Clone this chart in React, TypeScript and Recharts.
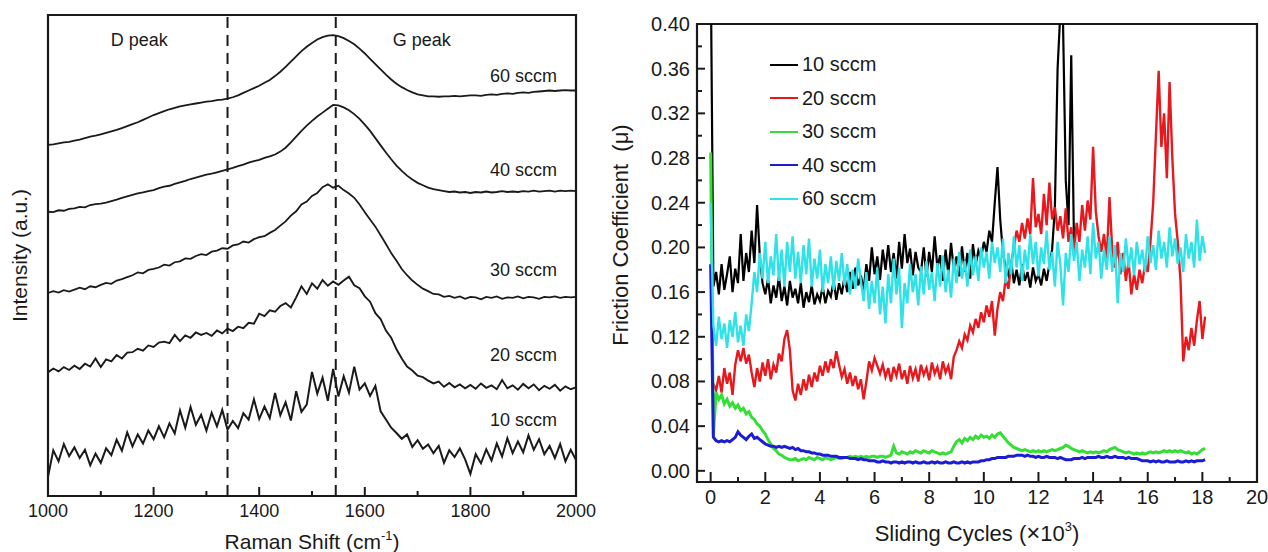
import React from 'react';
import {
  LineChart,
  Line,
  XAxis,
  YAxis,
  ReferenceLine,
  ReferenceArea,
  ReferenceDot,
  Legend
} from 'recharts';

const FONT = '"Liberation Sans", Arial, Helvetica, sans-serif';
const INK = '#1a1a1a';

// ---------- left panel: Raman spectra (intensity in arbitrary, offset units) ----------
const ramanShift = [
  1000, 1010, 1020, 1030, 1040, 1050, 1060, 1070, 1080, 1090,
  1100, 1110, 1120, 1130, 1140, 1150, 1160, 1170, 1180, 1190,
  1200, 1210, 1220, 1230, 1240, 1250, 1260, 1270, 1280, 1290,
  1300, 1310, 1320, 1330, 1340, 1350, 1360, 1370, 1380, 1390,
  1400, 1410, 1420, 1430, 1440, 1450, 1460, 1470, 1480, 1490,
  1500, 1510, 1520, 1530, 1540, 1550, 1560, 1570, 1580, 1590,
  1600, 1610, 1620, 1630, 1640, 1650, 1660, 1670, 1680, 1690,
  1700, 1710, 1720, 1730, 1740, 1750, 1760, 1770, 1780, 1790,
  1800, 1810, 1820, 1830, 1840, 1850, 1860, 1870, 1880, 1890,
  1900, 1910, 1920, 1930, 1940, 1950, 1960, 1970, 1980, 1990,
  2000
];

const raman60 = [
  73.0, 73.1, 73.3, 73.5, 73.6, 73.9, 74.1, 74.4, 74.7, 74.9,
  75.2, 75.5, 75.8, 76.1, 76.5, 76.9, 77.3, 77.7, 78.2, 78.7,
  79.2, 79.6, 80.0, 80.4, 80.7, 81.0, 81.2, 81.4, 81.6, 81.8,
  82.0, 82.1, 82.3, 82.4, 82.6, 82.9, 83.3, 83.8, 84.3, 84.8,
  85.3, 85.9, 86.5, 87.3, 88.2, 89.2, 90.3, 91.4, 92.5, 93.4,
  94.2, 94.9, 95.4, 95.7, 95.8, 95.6, 95.2, 94.6, 93.9, 93.0,
  92.0, 90.9, 89.8, 88.7, 87.6, 86.6, 85.7, 85.0, 84.4, 83.9,
  83.5, 83.3, 83.1, 83.1, 83.0, 83.1, 83.1, 83.2, 83.1, 83.2,
  83.3, 83.3, 83.2, 83.4, 83.5, 83.4, 83.6, 83.7, 83.6, 83.8,
  83.9, 83.8, 84.0, 84.1, 84.2, 84.3, 84.2, 84.3, 84.4, 84.3,
  84.3
];

const raman40 = [
  59.1, 59.0, 59.4, 59.3, 59.7, 59.8, 60.1, 60.0, 60.5, 60.7,
  60.8, 61.0, 61.3, 61.6, 62.0, 62.3, 62.6, 62.9, 63.1, 63.4,
  63.6, 64.0, 64.3, 64.5, 64.9, 65.2, 65.5, 65.9, 66.2, 66.5,
  66.8, 67.0, 67.3, 67.6, 67.9, 68.2, 68.6, 68.9, 69.3, 69.6,
  69.9, 70.3, 70.6, 71.0, 71.6, 72.4, 73.5, 74.7, 75.9, 77.0,
  78.0, 78.9, 79.7, 80.5, 81.3, 81.2, 80.8, 80.2, 79.4, 78.4,
  77.2, 75.9, 74.4, 72.9, 71.4, 70.0, 68.7, 67.6, 66.6, 65.8,
  65.1, 64.6, 64.1, 63.8, 63.6, 63.4, 63.2, 63.3, 63.1, 63.2,
  63.0, 63.2, 63.1, 63.3, 63.1, 63.2, 63.4, 63.2, 63.3, 63.2,
  63.4, 63.3, 63.5, 63.3, 63.4, 63.5, 63.3, 63.5, 63.4, 63.5,
  63.4
];

const raman30 = [
  42.2, 42.6, 42.3, 42.8, 42.5, 42.9, 43.3, 43.0, 43.6, 43.4,
  43.9, 44.3, 44.1, 44.8, 45.1, 45.5, 45.9, 46.5, 46.3, 47.0,
  47.2, 47.5, 48.1, 47.9, 48.6, 48.8, 49.4, 49.3, 49.9, 50.3,
  50.1, 50.8, 51.0, 51.5, 51.4, 52.1, 52.3, 52.9, 52.7, 53.4,
  53.8, 54.0, 54.7, 55.3, 56.2, 57.1, 58.3, 59.2, 60.6, 61.2,
  62.4, 63.0, 64.2, 64.8, 64.1, 64.5, 63.6, 62.9, 62.0, 60.6,
  59.0, 57.5, 56.0, 54.2, 52.4, 50.5, 48.9, 47.2, 45.9, 44.8,
  43.9, 43.1, 42.6, 42.0, 41.9, 41.4, 41.6, 41.2, 41.5, 41.0,
  41.4, 41.3, 40.9, 41.4, 41.2, 41.5, 41.0, 41.3, 41.2, 41.5,
  41.1, 41.4, 41.3, 41.0, 41.4, 41.3, 41.5, 41.2, 41.4, 41.3,
  41.4
];

const raman20 = [
  25.7, 26.5, 25.9, 26.8, 26.2, 27.1, 26.4, 27.5, 26.9, 28.6,
  26.8, 28.4, 28.0, 29.3, 28.6, 29.8, 29.9, 30.6, 30.2, 31.3,
  31.0, 31.9, 32.1, 31.8, 33.5, 32.2, 33.4, 32.9, 34.0, 33.5,
  33.9, 33.3, 34.4, 33.8, 34.8, 34.3, 35.2, 34.9, 36.0, 35.8,
  37.9, 37.4, 38.6, 38.3, 39.5, 40.1, 39.2, 41.3, 43.6, 42.0,
  44.2, 43.1, 44.9, 43.7, 44.6, 43.9, 44.8, 45.6, 43.8, 43.2,
  41.5, 40.4, 38.0, 36.8, 34.4, 32.9, 30.5, 28.6, 26.9, 26.1,
  25.0, 24.7, 24.0, 23.4, 23.8, 22.7, 23.5, 22.6, 23.2, 22.4,
  23.1, 22.3, 23.4, 22.5, 23.0, 22.2, 24.1, 22.4, 23.0, 22.1,
  23.3, 22.4, 23.2, 22.0, 22.9, 22.3, 23.1, 21.9, 22.8, 22.2,
  22.6
];

const raman10 = [
  4.0, 9.5, 7.2, 10.8, 8.3, 10.1, 7.9, 9.6, 6.4, 8.8,
  6.9, 9.9, 8.5, 11.7, 9.4, 13.2, 10.3, 12.8, 10.9, 13.6,
  11.8, 14.5, 12.2, 15.1, 13.0, 17.8, 14.2, 18.5, 14.8, 16.9,
  13.6, 17.3, 14.5, 17.9, 13.8, 15.6, 14.1, 17.2, 15.9, 20.1,
  16.0, 18.6, 16.2, 21.4, 16.8, 19.5, 15.7, 21.8, 17.5, 19.0,
  25.8, 21.3, 24.6, 19.8, 26.4, 20.7, 24.9, 21.5, 26.9, 22.1,
  23.4, 20.8, 22.9, 17.6, 15.9, 14.2, 13.1, 11.9, 12.8, 10.2,
  11.6, 9.8, 10.7, 8.9, 10.4, 6.9, 9.5, 8.1, 9.9, 7.6,
  4.6, 8.7, 6.8, 9.7, 7.4, 10.9, 8.2, 12.0, 8.9, 11.3,
  9.1, 12.6, 9.6, 11.8, 8.7, 10.4, 7.9, 10.8, 7.2, 9.6,
  7.5
];

const ramanTicks = [1000, 1100, 1200, 1300, 1400, 1500, 1600, 1700, 1800, 1900, 2000];
const peakLines = [1340, 1545];

// annotations: [label, raman shift, intensity]
const peakLabels: [string, number, number][] = [
  ['D peak', 1173, 94.9],
  ['G peak', 1708, 94.9]
];
const flowLabels: [string, number, number][] = [
  ['60 sccm', 1964, 87.3],
  ['40 sccm', 1964, 67.7],
  ['30 sccm', 1964, 47.0],
  ['20 sccm', 1964, 29.3],
  ['10 sccm', 1964, 15.9]
];

const ramanData = ramanShift.map((x, i) => ({
  x,
  s10: raman10[i],
  s20: raman20[i],
  s30: raman30[i],
  s40: raman40[i],
  s60: raman60[i]
}));

// ---------- right panel: friction coefficient vs sliding cycles (x10^3) ----------
const cycles = [
  0.0, 0.1, 0.2, 0.3, 0.4, 0.5, 0.6, 0.7, 0.8, 0.9,
  1.0, 1.1, 1.2, 1.3, 1.4, 1.5, 1.6, 1.7, 1.8, 1.9,
  2.0, 2.1, 2.2, 2.3, 2.4, 2.5, 2.6, 2.7, 2.8, 2.9,
  3.0, 3.1, 3.2, 3.3, 3.4, 3.5, 3.6, 3.7, 3.8, 3.9,
  4.0, 4.1, 4.2, 4.3, 4.4, 4.5, 4.6, 4.7, 4.8, 4.9,
  5.0, 5.1, 5.2, 5.3, 5.4, 5.5, 5.6, 5.7, 5.8, 5.9,
  6.0, 6.1, 6.2, 6.3, 6.4, 6.5, 6.6, 6.7, 6.8, 6.9,
  7.0, 7.1, 7.2, 7.3, 7.4, 7.5, 7.6, 7.7, 7.8, 7.9,
  8.0, 8.1, 8.2, 8.3, 8.4, 8.5, 8.6, 8.7, 8.8, 8.9,
  9.0, 9.1, 9.2, 9.3, 9.4, 9.5, 9.6, 9.7, 9.8, 9.9,
  10.0, 10.1, 10.2, 10.3, 10.4, 10.5, 10.6, 10.7, 10.8, 10.9,
  11.0, 11.1, 11.2, 11.3, 11.4, 11.5, 11.6, 11.7, 11.8, 11.9,
  12.0, 12.1, 12.2, 12.3, 12.4, 12.5, 12.6, 12.7, 12.8, 12.9,
  13.0, 13.1, 13.2, 13.3, 13.4, 13.5, 13.6, 13.7, 13.8, 13.9,
  14.0, 14.1, 14.2, 14.3, 14.4, 14.5, 14.6, 14.7, 14.8, 14.9,
  15.0, 15.1, 15.2, 15.3, 15.4, 15.5, 15.6, 15.7, 15.8, 15.9,
  16.0, 16.1, 16.2, 16.3, 16.4, 16.5, 16.6, 16.7, 16.8, 16.9,
  17.0, 17.1, 17.2, 17.3, 17.4, 17.5, 17.6, 17.7, 17.8, 17.9,
  18.0, 18.1
];

// 10 sccm stops after the big spike at ~13.3
const mu10 = [
  0.46, 0.165, 0.178, 0.158, 0.185, 0.162, 0.176, 0.192, 0.160, 0.181,
  0.168, 0.212, 0.170, 0.195, 0.178, 0.215, 0.186, 0.238, 0.192, 0.168,
  0.158, 0.172, 0.150, 0.166, 0.155, 0.174, 0.152, 0.165, 0.148, 0.170,
  0.155, 0.163, 0.150, 0.168, 0.146, 0.160, 0.151, 0.166, 0.149, 0.158,
  0.152, 0.165, 0.150, 0.161, 0.156, 0.170, 0.153, 0.168, 0.158, 0.174,
  0.160, 0.178, 0.163, 0.182, 0.166, 0.175, 0.162, 0.185, 0.170, 0.200,
  0.176, 0.192, 0.171, 0.198, 0.180, 0.202, 0.178, 0.195, 0.172, 0.205,
  0.181, 0.212, 0.186, 0.199, 0.175, 0.196, 0.182, 0.178, 0.200, 0.174,
  0.196, 0.178, 0.210, 0.182, 0.193, 0.170, 0.198, 0.176, 0.204, 0.180,
  0.192, 0.174, 0.201, 0.178, 0.195, 0.172, 0.203, 0.184, 0.197, 0.190,
  0.205, 0.196, 0.215, 0.205, 0.240, 0.272, 0.225, 0.195, 0.182, 0.175,
  0.188, 0.168, 0.180, 0.166, 0.185, 0.170, 0.178, 0.164, 0.182, 0.170,
  0.176, 0.166, 0.181, 0.170, 0.185, 0.198, 0.235, 0.360, 0.410, 0.400,
  0.260, 0.220, 0.372, 0.205
];

const mu20 = [
  null, 0.078, 0.072, 0.085, 0.070, 0.092, 0.078, 0.088, 0.068, 0.095,
  0.108, 0.098, 0.110, 0.096, 0.104, 0.088, 0.075, 0.092, 0.080, 0.097,
  0.085, 0.100, 0.082, 0.095, 0.088, 0.105, 0.098, 0.118, 0.126, 0.108,
  0.072, 0.063, 0.078, 0.068, 0.082, 0.072, 0.086, 0.075, 0.088, 0.080,
  0.094, 0.085, 0.098, 0.088, 0.100, 0.092, 0.107, 0.095, 0.084, 0.091,
  0.078, 0.088, 0.076, 0.085, 0.073, 0.082, 0.064, 0.080, 0.098, 0.090,
  0.101, 0.094, 0.087, 0.095, 0.084, 0.092, 0.080, 0.093, 0.085, 0.096,
  0.082, 0.090, 0.078, 0.094, 0.083, 0.091, 0.080, 0.095, 0.086, 0.092,
  0.081, 0.097, 0.087, 0.093, 0.082, 0.098, 0.088, 0.094, 0.082, 0.102,
  0.108, 0.116, 0.110, 0.122, 0.117, 0.130, 0.124, 0.136, 0.128, 0.142,
  0.133, 0.148, 0.138, 0.152, 0.121, 0.145, 0.160, 0.152, 0.172, 0.163,
  0.185, 0.200, 0.215, 0.205, 0.222, 0.208, 0.226, 0.212, 0.262, 0.218,
  0.230, 0.212, 0.248, 0.220, 0.258, 0.225, 0.236, 0.215, 0.228, 0.208,
  0.235, 0.205, 0.218, 0.196, 0.222, 0.205, 0.238, 0.215, 0.242, 0.225,
  0.290, 0.232, 0.210, 0.196, 0.212, 0.190, 0.245, 0.198, 0.182, 0.205,
  0.176, 0.195, 0.170, 0.188, 0.158, 0.176, 0.162, 0.180, 0.168, 0.185,
  0.178, 0.205, 0.240, 0.300, 0.358, 0.290, 0.320, 0.262, 0.348, 0.280,
  0.230, 0.205, 0.170, 0.098, 0.120, 0.108, 0.128, 0.112, 0.135, 0.152,
  0.118, 0.138
];

const mu30 = [
  0.285, 0.032, 0.070, 0.064, 0.068, 0.060, 0.064, 0.058, 0.061, 0.056,
  0.059, 0.054, 0.056, 0.051, 0.053, 0.048, 0.046, 0.042, 0.040, 0.036,
  0.033, 0.028, 0.024, 0.020, 0.018, 0.015, 0.014, 0.012, 0.011, 0.010,
  0.010, 0.011, 0.009, 0.010, 0.011, 0.010, 0.012, 0.011, 0.010, 0.012,
  0.011, 0.010, 0.012, 0.011, 0.010, 0.011, 0.012, 0.011, 0.011, 0.012,
  0.012, 0.013, 0.012, 0.013, 0.012, 0.013, 0.012, 0.013, 0.012, 0.013,
  0.013, 0.012, 0.013, 0.013, 0.012, 0.013, 0.014, 0.022, 0.016, 0.015,
  0.017, 0.016, 0.015, 0.017, 0.016, 0.018, 0.017, 0.016, 0.018, 0.017,
  0.016, 0.018, 0.017, 0.016, 0.015, 0.016, 0.015, 0.016, 0.017, 0.022,
  0.026, 0.028, 0.025, 0.029, 0.027, 0.030, 0.028, 0.031, 0.029, 0.032,
  0.030, 0.031, 0.029, 0.032, 0.030, 0.033, 0.034, 0.031, 0.028, 0.025,
  0.023, 0.021, 0.020, 0.019, 0.018, 0.019, 0.018, 0.017, 0.018, 0.017,
  0.018, 0.017, 0.018, 0.017, 0.018, 0.019, 0.018, 0.019, 0.020, 0.021,
  0.023, 0.022, 0.020, 0.019, 0.018, 0.017, 0.018, 0.017, 0.016, 0.017,
  0.016, 0.017, 0.016, 0.017, 0.018, 0.017, 0.019, 0.020, 0.021, 0.019,
  0.018, 0.017, 0.016, 0.017, 0.016, 0.015, 0.016, 0.015, 0.016, 0.015,
  0.016, 0.017, 0.016, 0.017, 0.016, 0.017, 0.018, 0.017, 0.018, 0.017,
  0.018, 0.017, 0.018, 0.017, 0.016, 0.017, 0.015, 0.016, 0.015, 0.017,
  0.019, 0.020
];

const mu40 = [
  0.185, 0.030, 0.027, 0.026, 0.027, 0.026, 0.027, 0.026, 0.028, 0.030,
  0.035, 0.032, 0.030, 0.028, 0.031, 0.033, 0.029, 0.030, 0.028, 0.026,
  0.024, 0.023, 0.022, 0.022, 0.021, 0.022, 0.021, 0.022, 0.021, 0.020,
  0.021, 0.019, 0.020, 0.018, 0.018, 0.017, 0.017, 0.016, 0.016, 0.015,
  0.015, 0.014, 0.014, 0.014, 0.013, 0.013, 0.013, 0.012, 0.012, 0.012,
  0.012, 0.011, 0.011, 0.011, 0.010, 0.011, 0.010, 0.010, 0.009, 0.009,
  0.009, 0.008, 0.008, 0.009, 0.008, 0.008, 0.007, 0.008, 0.008, 0.007,
  0.008, 0.007, 0.008, 0.008, 0.007, 0.008, 0.007, 0.007, 0.008, 0.007,
  0.007, 0.008, 0.007, 0.008, 0.007, 0.007, 0.008, 0.007, 0.007, 0.008,
  0.007, 0.007, 0.008, 0.007, 0.008, 0.007, 0.008, 0.008, 0.008, 0.009,
  0.009, 0.010, 0.010, 0.011, 0.011, 0.012, 0.012, 0.012, 0.012, 0.013,
  0.013, 0.013, 0.014, 0.014, 0.014, 0.013, 0.014, 0.013, 0.013, 0.012,
  0.013, 0.012, 0.012, 0.013, 0.012, 0.012, 0.012, 0.011, 0.012, 0.011,
  0.010, 0.010, 0.010, 0.011, 0.011, 0.011, 0.012, 0.011, 0.012, 0.012,
  0.012, 0.012, 0.013, 0.012, 0.012, 0.013, 0.012, 0.012, 0.013, 0.012,
  0.012, 0.012, 0.011, 0.012, 0.011, 0.011, 0.011, 0.010, 0.009, 0.009,
  0.009, 0.008, 0.009, 0.008, 0.009, 0.008, 0.008, 0.009, 0.008, 0.008,
  0.008, 0.009, 0.008, 0.008, 0.009, 0.008, 0.009, 0.008, 0.009, 0.009,
  0.009, 0.010
];

const mu60 = [
  0.240, 0.130, 0.112, 0.138, 0.118, 0.132, 0.110, 0.135, 0.120, 0.142,
  0.115, 0.130, 0.112, 0.140, 0.125, 0.150, 0.178, 0.160, 0.195, 0.172,
  0.205, 0.168, 0.192, 0.175, 0.212, 0.170, 0.198, 0.165, 0.205, 0.178,
  0.210, 0.172, 0.196, 0.168, 0.202, 0.176, 0.208, 0.165, 0.190, 0.172,
  0.198, 0.160, 0.185, 0.168, 0.192, 0.162, 0.188, 0.170, 0.195, 0.166,
  0.185, 0.158, 0.180, 0.163, 0.190, 0.170, 0.152, 0.178, 0.145, 0.170,
  0.150, 0.182, 0.140, 0.165, 0.132, 0.176, 0.150, 0.190, 0.158, 0.182,
  0.128, 0.168, 0.150, 0.185, 0.160, 0.176, 0.148, 0.183, 0.158, 0.188,
  0.162, 0.178, 0.152, 0.186, 0.165, 0.193, 0.160, 0.180, 0.155, 0.190,
  0.168, 0.196, 0.172, 0.188, 0.165, 0.198, 0.175, 0.192, 0.170, 0.200,
  0.182, 0.196, 0.172, 0.205, 0.186, 0.200, 0.178, 0.208, 0.168, 0.195,
  0.176, 0.210, 0.182, 0.202, 0.170, 0.198, 0.180, 0.212, 0.185, 0.205,
  0.174, 0.200, 0.185, 0.215, 0.180, 0.196, 0.165, 0.205, 0.185, 0.148,
  0.195, 0.178, 0.212, 0.188, 0.205, 0.170, 0.198, 0.182, 0.210, 0.176,
  0.222, 0.190, 0.205, 0.172, 0.198, 0.180, 0.210, 0.178, 0.202, 0.150,
  0.195, 0.178, 0.208, 0.182, 0.200, 0.175, 0.205, 0.185, 0.198, 0.178,
  0.210, 0.186, 0.202, 0.180, 0.215, 0.190, 0.205, 0.182, 0.218, 0.192,
  0.208, 0.185, 0.200, 0.178, 0.212, 0.190, 0.205, 0.182, 0.225, 0.188,
  0.210, 0.195
];

const cycleTicks = [0, 1, 2, 3, 4, 5, 6, 7, 8, 9, 10, 11, 12, 13, 14, 15, 16, 17, 18, 19, 20];
const muTicks = [
  0, 0.02, 0.04, 0.06, 0.08, 0.1, 0.12, 0.14, 0.16, 0.18, 0.2,
  0.22, 0.24, 0.26, 0.28, 0.3, 0.32, 0.34, 0.36, 0.38, 0.4
];

const frictionData = cycles.map((x, i) => ({
  x,
  m10: i < mu10.length ? mu10[i] : null,
  m20: mu20[i],
  m30: mu30[i],
  m40: mu40[i],
  m60: mu60[i]
}));

// ---------- tick renderers (ticks point into the plot) ----------
const RamanTick = (props: any) => {
  const { x, y, payload } = props;
  const v = payload.value;
  const major = v % 200 === 0;
  return (
    <g>
      <line x1={x} x2={x} y1={y} y2={y - (major ? 9 : 5)} stroke={INK} strokeWidth={2} />
      {major && (
        <text x={x} y={y + 21} textAnchor="middle" fontSize={18} fill={INK} fontFamily={FONT}>
          {v}
        </text>
      )}
    </g>
  );
};

const CycleTick = (props: any) => {
  const { x, y, payload } = props;
  const v = payload.value;
  const major = v % 2 === 0;
  return (
    <g>
      <line x1={x} x2={x} y1={y} y2={y - (major ? 10 : 5)} stroke={INK} strokeWidth={2} />
      {major && (
        <text x={x} y={y + 22} textAnchor="middle" fontSize={20} fill={INK} fontFamily={FONT}>
          {v}
        </text>
      )}
    </g>
  );
};

const MuTick = (props: any) => {
  const { x, y, payload } = props;
  const v = payload.value;
  const major = Math.round(v * 100) % 4 === 0;
  return (
    <g>
      <line x1={x} x2={x + (major ? 8 : 5)} y1={y} y2={y} stroke={INK} strokeWidth={2} />
      {major && (
        <text x={x - 7} y={y + 7} textAnchor="end" fontSize={20} fill={INK} fontFamily={FONT}>
          {v.toFixed(2)}
        </text>
      )}
    </g>
  );
};

const textAt = (label: string, anchor: string) => (p: any) => (
  <text
    x={p.cx}
    y={p.cy}
    dy={6}
    textAnchor={anchor}
    fontSize={18}
    fill={INK}
    fontFamily={FONT}
  >
    {label}
  </text>
);

const renderLegend = (props: any) => (
  <div style={{ fontFamily: FONT }}>
    {(props.payload || []).map((e: any) => (
      <div key={e.value} style={{ display: 'flex', alignItems: 'center', height: 33.5 }}>
        <span style={{ display: 'inline-block', width: 28, height: 2, background: e.color, marginRight: 4 }} />
        <span style={{ fontSize: 20, color: INK }}>{e.value}</span>
      </div>
    ))}
  </div>
);

const series = [
  { key: 'm10', name: '10 sccm', color: '#000000', width: 2.2 },
  { key: 'm20', name: '20 sccm', color: '#e8191e', width: 2.4 },
  { key: 'm30', name: '30 sccm', color: '#35de35', width: 3 },
  { key: 'm40', name: '40 sccm', color: '#1c1cd2', width: 3 },
  { key: 'm60', name: '60 sccm', color: '#2fe2e8', width: 2.4 }
];

const App: React.FC = () => {
  return (
    <div
      style={{
        position: 'absolute',
        left: 0,
        top: 0,
        width: 1268,
        height: 552,
        background: '#ffffff',
        fontFamily: FONT
      }}
    >
      {/* Raman spectra */}
      <div style={{ position: 'absolute', left: 0, top: 0 }}>
        <LineChart width={600} height={552} data={ramanData} margin={{ top: 15, right: 24, bottom: 0, left: 0 }}>
          <XAxis
            dataKey="x"
            type="number"
            domain={[1000, 2000]}
            ticks={ramanTicks}
            interval={0}
            tickSize={0}
            tickMargin={0}
            axisLine={false}
            tick={(p: any) => <RamanTick {...p} />}
            height={56}
            label={{
              content: (p: any) => (
                <text
                  x={p.viewBox.x + p.viewBox.width / 2}
                  y={p.viewBox.y + 53}
                  textAnchor="middle"
                  fontSize={21}
                  fill={INK}
                  fontFamily={FONT}
                >
                  Raman Shift (cm
                  <tspan dy={-9} fontSize={13}>-1</tspan>
                  <tspan dy={9}>)</tspan>
                </text>
              )
            }}
          />
          <YAxis
            type="number"
            domain={[0, 100]}
            width={48}
            tick={false}
            tickLine={false}
            axisLine={false}
            label={{
              content: (p: any) => {
                const cx = 27;
                const cy = p.viewBox.y + p.viewBox.height / 2;
                return (
                  <text
                    x={cx}
                    y={cy}
                    transform={`rotate(-90 ${cx} ${cy})`}
                    textAnchor="middle"
                    fontSize={21}
                    fill={INK}
                    fontFamily={FONT}
                  >
                    Intensity (a.u.)
                  </text>
                );
              }
            }}
          />
          <ReferenceArea x1={1000} x2={2000} y1={0} y2={100} fill="none" stroke={INK} strokeWidth={2.2} />
          {peakLines.map((x) => (
            <ReferenceLine key={x} x={x} stroke={INK} strokeWidth={2} strokeDasharray="11 7" />
          ))}
          {peakLabels.map(([label, x, y]) => (
            <ReferenceDot key={label} x={x} y={y} r={0} shape={textAt(label, 'middle')} />
          ))}
          {flowLabels.map(([label, x, y]) => (
            <ReferenceDot key={label} x={x} y={y} r={0} shape={textAt(label, 'end')} />
          ))}
          <Line dataKey="s60" stroke={INK} strokeWidth={1.8} dot={false} isAnimationActive={false} />
          <Line dataKey="s40" stroke={INK} strokeWidth={1.8} dot={false} isAnimationActive={false} />
          <Line dataKey="s30" stroke={INK} strokeWidth={1.8} dot={false} isAnimationActive={false} />
          <Line dataKey="s20" stroke={INK} strokeWidth={1.9} dot={false} isAnimationActive={false} />
          <Line dataKey="s10" stroke={INK} strokeWidth={2} dot={false} isAnimationActive={false} />
        </LineChart>
      </div>

      {/* Friction coefficient */}
      <div style={{ position: 'absolute', left: 600, top: 0 }}>
        <LineChart width={668} height={552} data={frictionData} margin={{ top: 24, right: 11, bottom: 0, left: 0 }}>
          <XAxis
            dataKey="x"
            type="number"
            domain={[-0.5, 20]}
            ticks={cycleTicks}
            interval={0}
            tickSize={0}
            tickMargin={0}
            axisLine={false}
            allowDataOverflow
            tick={(p: any) => <CycleTick {...p} />}
            height={70}
            label={{
              content: (p: any) => (
                <text
                  x={p.viewBox.x + p.viewBox.width / 2}
                  y={p.viewBox.y + 59}
                  textAnchor="middle"
                  fontSize={22}
                  fill={INK}
                  fontFamily={FONT}
                >
                  Sliding Cycles (
                  <tspan fontSize={24}>×</tspan>
                  10
                  <tspan dy={-10} fontSize={13}>3</tspan>
                  <tspan dy={10}>)</tspan>
                </text>
              )
            }}
          />
          <YAxis
            type="number"
            domain={[-0.01, 0.4]}
            ticks={muTicks}
            interval={0}
            tickSize={0}
            tickMargin={0}
            axisLine={false}
            allowDataOverflow
            tick={(p: any) => <MuTick {...p} />}
            width={97}
            label={{
              content: () => {
                const cx = 28;
                const cy = 235;
                return (
                  <text
                    x={cx}
                    y={cy}
                    transform={`rotate(-90 ${cx} ${cy})`}
                    textAnchor="middle"
                    fontSize={22}
                    fill={INK}
                    fontFamily={FONT}
                    style={{ whiteSpace: 'pre' }}
                  >
                    {'Friction Coefficient  (μ)'}
                  </text>
                );
              }
            }}
          />
          <ReferenceArea x1={-0.5} x2={20} y1={-0.01} y2={0.4} fill="none" stroke={INK} strokeWidth={2.2} />
          {series.map((s) => (
            <Line
              key={s.key}
              dataKey={s.key}
              name={s.name}
              stroke={s.color}
              strokeWidth={s.width}
              dot={false}
              connectNulls={false}
              isAnimationActive={false}
            />
          ))}
          <Legend
            layout="vertical"
            align="center"
            verticalAlign="middle"
            content={renderLegend}
            wrapperStyle={{ left: 170, top: 48, width: 140, height: 170 }}
          />
        </LineChart>
      </div>
    </div>
  );
};

export default App;
